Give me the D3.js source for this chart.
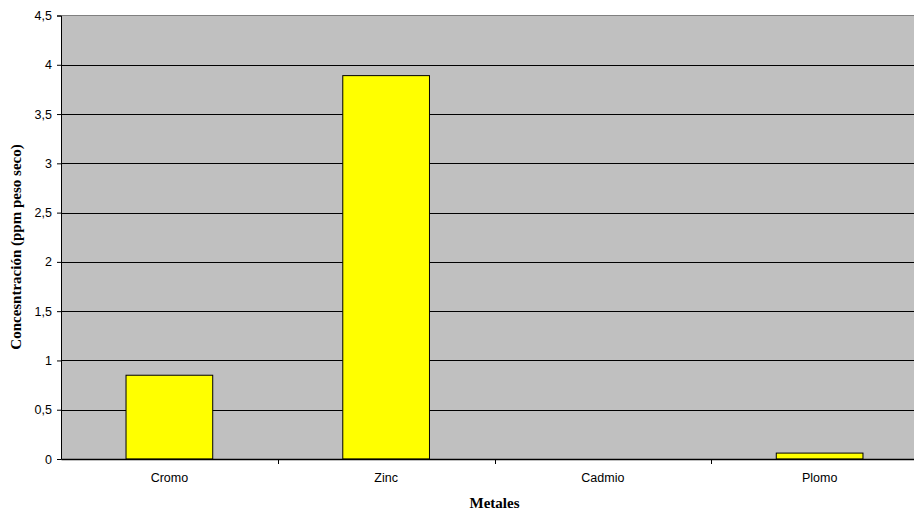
<!DOCTYPE html>
<html>
<head>
<meta charset="utf-8">
<script src="https://cdn.jsdelivr.net/npm/d3@7"></script>
<style>
  html, body { margin: 0; padding: 0; background: #fff; }
  svg { display: block; }
</style>
</head>
<body>
<svg id="chart" width="914" height="511"></svg>
<script>
// Metal concentrations (ppm, dry weight)
const categories = ["Cromo", "Zinc", "Cadmio", "Plomo"];
const values = [0.85, 3.89, 0, 0.06];
const yTicks = [0, 0.5, 1, 1.5, 2, 2.5, 3, 3.5, 4, 4.5];
const yTitle = "Concesntración (ppm peso seco)";
const xTitle = "Metales";

const svg = d3.select("#chart");
const plot = { left: 61, right: 928, top: 15.5, bottom: 459 };

const x = d3.scaleBand().domain(categories).range([plot.left, plot.right])
  .paddingInner(0.6).paddingOuter(0.3);
const xOuter = d3.scaleBand().domain(categories).range([plot.left, plot.right]);
const y = d3.scaleLinear().domain([0, 4.5]).range([plot.bottom, plot.top]);

const fmt = d => String(d).replace(".", ",");

// plot background
svg.append("rect")
  .attr("x", plot.left).attr("y", plot.top)
  .attr("width", plot.right - plot.left).attr("height", plot.bottom - plot.top)
  .attr("fill", "#c0c0c0");

// top border
svg.append("line")
  .attr("x1", plot.left).attr("x2", plot.right)
  .attr("y1", plot.top).attr("y2", plot.top)
  .attr("stroke", "#808080").attr("stroke-width", 1);

// horizontal gridlines
svg.append("g").selectAll("line")
  .data(yTicks.filter(t => t > 0 && t < 4.5))
  .join("line")
  .attr("x1", plot.left).attr("x2", plot.right)
  .attr("y1", d => Math.round(y(d)) + 0.5).attr("y2", d => Math.round(y(d)) + 0.5)
  .attr("stroke", "#000").attr("stroke-width", 1);

// bars
svg.append("g").selectAll("rect")
  .data(categories.map((c, i) => ({ c, v: values[i] })).filter(d => d.v > 0))
  .join("rect")
  .attr("x", d => x(d.c))
  .attr("y", d => y(d.v))
  .attr("width", x.bandwidth())
  .attr("height", d => plot.bottom - y(d.v))
  .attr("fill", "#ffff00")
  .attr("stroke", "#000").attr("stroke-width", 1);

// y axis
const yAxis = d3.axisLeft(y).tickValues(yTicks).tickFormat(fmt).tickSize(4).tickPadding(5);
const gy = svg.append("g").attr("transform", `translate(${plot.left},0)`).call(yAxis);
gy.select(".domain").attr("stroke", "#000");
gy.selectAll(".tick line").attr("stroke", "#000");
gy.selectAll("text").attr("font-family", "Liberation Sans, Arial, sans-serif")
  .attr("font-size", "12.5px").attr("fill", "#000");

// x axis
const xAxis = d3.axisBottom(xOuter).tickSize(0).tickPadding(14);
const gx = svg.append("g").attr("transform", `translate(0,${plot.bottom})`).call(xAxis);
gx.select(".domain").attr("stroke", "#000").attr("stroke-width", 1.3);
gx.selectAll("text").attr("font-family", "Liberation Sans, Arial, sans-serif")
  .attr("font-size", "12.5px").attr("fill", "#000");

// category separator ticks
svg.append("g").selectAll("line")
  .data(categories.slice(1))
  .join("line")
  .attr("x1", d => Math.round(xOuter(d)) + 0.5).attr("x2", d => Math.round(xOuter(d)) + 0.5)
  .attr("y1", plot.bottom).attr("y2", plot.bottom + 5)
  .attr("stroke", "#000");

// axis titles
svg.append("text")
  .attr("x", (plot.left + plot.right) / 2).attr("y", 508)
  .attr("text-anchor", "middle")
  .attr("font-family", "Liberation Serif, Times New Roman, serif")
  .attr("font-weight", "bold").attr("font-size", "15px")
  .text(xTitle);

svg.append("text")
  .attr("transform", "translate(21,247) rotate(-90)")
  .attr("text-anchor", "middle")
  .attr("font-family", "Liberation Serif, Times New Roman, serif")
  .attr("font-weight", "bold").attr("font-size", "15px")
  .text(yTitle);
</script>
</body>
</html>
